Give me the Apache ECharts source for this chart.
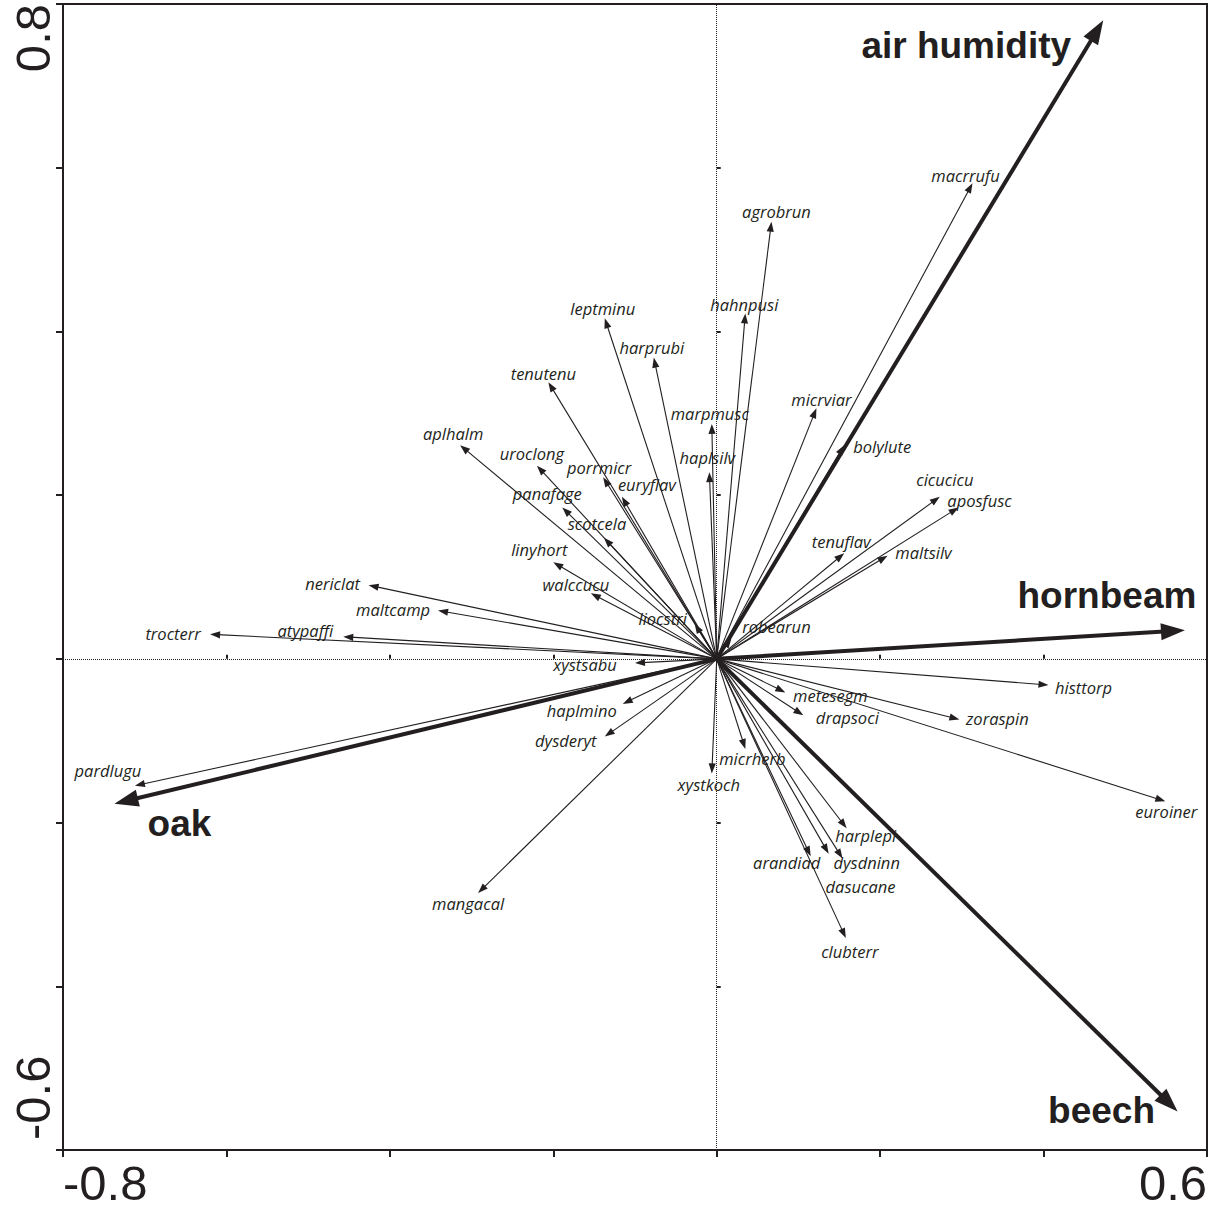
<!DOCTYPE html>
<html><head><meta charset="utf-8">
<script src="https://cdn.jsdelivr.net/npm/echarts@6/dist/echarts.min.js"></script>
<style>html,body{margin:0;padding:0;background:#fff}#c{width:1215px;height:1215px}</style>
</head><body><div id="c"></div>
<script>
// ---------- data ----------
const speciesNames = ['macrrufu','agrobrun','hahnpusi','leptminu','harprubi','tenutenu','marpmusc','micrviar','aplhalm','bolylute','uroclong','haplsilv','porrmicr','cicucicu','euryflav','aposfusc','panafage','scotcela','tenuflav','linyhort','maltsilv','walccucu','nericlat','maltcamp','liocstri','robearun','trocterr','atypaffi','xystsabu','histtorp','metesegm','drapsoci','zoraspin','haplmino','dysderyt','micrherb','xystkoch','pardlugu','euroiner','harplepi','arandiad','dysdninn','dasucane','mangacal','clubterr'];
const speciesX = [0.313,0.067,0.035,-0.137,-0.077,-0.206,-0.006,0.122,-0.314,0.156,-0.220,-0.009,-0.139,0.273,-0.116,0.296,-0.189,-0.138,0.156,-0.200,0.209,-0.154,-0.426,-0.341,-0.027,0.018,-0.620,-0.457,-0.100,0.406,0.084,0.106,0.297,-0.115,-0.137,0.035,-0.006,-0.712,0.549,0.159,0.115,0.137,0.154,-0.292,0.158];
const speciesY = [0.581,0.534,0.422,0.416,0.368,0.338,0.287,0.306,0.261,0.261,0.236,0.228,0.222,0.198,0.198,0.185,0.185,0.148,0.129,0.118,0.126,0.080,0.090,0.059,0.043,0.025,0.030,0.027,-0.005,-0.032,-0.041,-0.069,-0.074,-0.055,-0.095,-0.110,-0.140,-0.155,-0.174,-0.207,-0.241,-0.238,-0.244,-0.286,-0.341];
const envNames = ['air humidity','hornbeam','beech','oak'];
const envX = [0.473, 0.573, 0.564, -0.737];
const envY = [0.780, 0.035, -0.553, -0.177];
const xTickLabels = ['-0.8','','','','','','','0.6'];
const yTickLabels = ['-0.6','','','','','','','0.8'];

// ---------- layout (label centre offset from arrow tip, px) ----------
const labelOffset = {
  macrrufu:[-7,-8], agrobrun:[5,-10], hahnpusi:[-1,-9], leptminu:[-2,-10], harprubi:[-2,-10],
  tenutenu:[-5,-9], marpmusc:[-2,-10], micrviar:[5,-9], aplhalm:[-7,-12], bolylute:[38,1],
  uroclong:[-5,-12], haplsilv:[-2,-15], porrmicr:[-4,-10], cicucicu:[5,-17], euryflav:[25,-12],
  aposfusc:[21,-7], panafage:[-15,-14], scotcela:[-7,-14], tenuflav:[-3,-12], linyhort:[-14,-13],
  maltsilv:[36,-3], walccucu:[-15,-9], nericlat:[-36,-2], maltcamp:[-45,-1], liocstri:[-32,-5],
  robearun:[45,-12], trocterr:[-37,-1], atypaffi:[-38,-6], xystsabu:[-50,2], histtorp:[35,2],
  metesegm:[45,3], drapsoci:[44,2], zoraspin:[38,-1], haplmino:[-41,7], dysderyt:[-39,4],
  micrherb:[7,10], xystkoch:[-3,11], pardlugu:[-27,-15], euroiner:[1,10], harplepi:[19,7],
  arandiad:[-24,6], dysdninn:[38,9], dasucane:[18,28], mangacal:[-10,11], clubterr:[4,14],
  'air humidity':[-137,25], hornbeam:[-78,-35], beech:[-76,-1], oak:[65,20]
};

const INK = '#231f20';

function arrowRender(names, st) {
  return function (params, api) {
    const i = params.dataIndex;
    const o = api.coord([0, 0]);
    const t = api.coord([api.value(0), api.value(1)]);
    const dx = t[0] - o[0], dy = t[1] - o[1];
    const len = Math.hypot(dx, dy) || 1;
    const ux = dx / len, uy = dy / len;
    const bx = t[0] - ux * st.head, by = t[1] - uy * st.head;
    const nx = -uy, ny = ux;
    const off = labelOffset[names[i]] || [0, -12];
    return {
      type: 'group',
      children: [
        { type: 'line', shape: { x1: o[0], y1: o[1], x2: t[0] - ux * st.head * 0.7, y2: t[1] - uy * st.head * 0.7 },
          style: { stroke: INK, lineWidth: st.width } },
        { type: 'polygon', shape: { points: [[t[0], t[1]], [bx + nx * st.half, by + ny * st.half], [bx - nx * st.half, by - ny * st.half]] },
          style: { fill: INK } },
        { type: 'text', x: t[0] + off[0], y: t[1] + off[1],
          style: { text: names[i], font: st.font, fill: INK, align: 'center', verticalAlign: 'middle' } }
      ]
    };
  };
}

const chart = echarts.init(document.getElementById('c'), null, { renderer: 'svg' });
const axisFont = { fontFamily: 'Liberation Sans, Arial, sans-serif', fontSize: 49, color: INK };

chart.setOption({
  animation: false,
  backgroundColor: '#fff',
  grid: { left: 63, right: 8, top: 4, bottom: 65, show: true, borderColor: INK, borderWidth: 2 },
  xAxis: [{
    type: 'value', min: -0.8, max: 0.6, interval: 0.2,
    axisLine: { show: true, onZero: false, lineStyle: { color: INK, width: 2 } },
    axisTick: { show: true, length: 7, lineStyle: { color: INK, width: 2 } },
    splitLine: { show: false },
    axisLabel: Object.assign({ margin: 8, showMinLabel: true, showMaxLabel: true, hideOverlap: false,
      alignMinLabel: 'left', alignMaxLabel: 'right',
      formatter: (v, i) => xTickLabels[i] || '' }, axisFont)
  }, {
    type: 'value', min: -0.8, max: 0.6, interval: 0.2, position: 'bottom',
    axisLine: { show: false }, axisLabel: { show: false }, splitLine: { show: false },
    axisTick: { show: true, inside: true, length: 4, lineStyle: { color: INK, width: 2 } }
  }],
  yAxis: [{
    type: 'value', min: -0.6, max: 0.8, interval: 0.2,
    axisLine: { show: true, onZero: false, lineStyle: { color: INK, width: 2 } },
    axisTick: { show: true, length: 7, lineStyle: { color: INK, width: 2 } },
    splitLine: { show: false },
    axisLabel: Object.assign({ margin: 6, rotate: 90, showMinLabel: true, showMaxLabel: true, hideOverlap: false,
      alignMinLabel: 'left', alignMaxLabel: 'right', padding: [0, 0, 0, 10],
      formatter: (v, i) => yTickLabels[i] || '' }, axisFont)
  }, {
    type: 'value', min: -0.6, max: 0.8, interval: 0.2, position: 'left',
    axisLine: { show: false }, axisLabel: { show: false }, splitLine: { show: false },
    axisTick: { show: true, inside: true, length: 4, lineStyle: { color: INK, width: 2 } }
  }],
  series: [
    {
      type: 'custom', name: 'species', coordinateSystem: 'cartesian2d', clip: false,
      renderItem: arrowRender(speciesNames, { width: 1.1, head: 10, half: 3.6, font: 'italic 16.5px "Open Sans", sans-serif' }),
      data: speciesX.map((x, i) => [x, speciesY[i]]),
      markLine: {
        silent: true, symbol: 'none', label: { show: false },
        lineStyle: { type: 'dotted', color: INK, width: 1 },
        data: [{ xAxis: 0 }, { yAxis: 0 }]
      }
    },
    {
      type: 'custom', name: 'environment', coordinateSystem: 'cartesian2d', clip: false,
      renderItem: arrowRender(envNames, { width: 4, head: 24, half: 8.5, font: 'bold 37px "Liberation Sans", Arial, sans-serif' }),
      data: envX.map((x, i) => [x, envY[i]])
    }
  ]
});
</script>
</body></html>
